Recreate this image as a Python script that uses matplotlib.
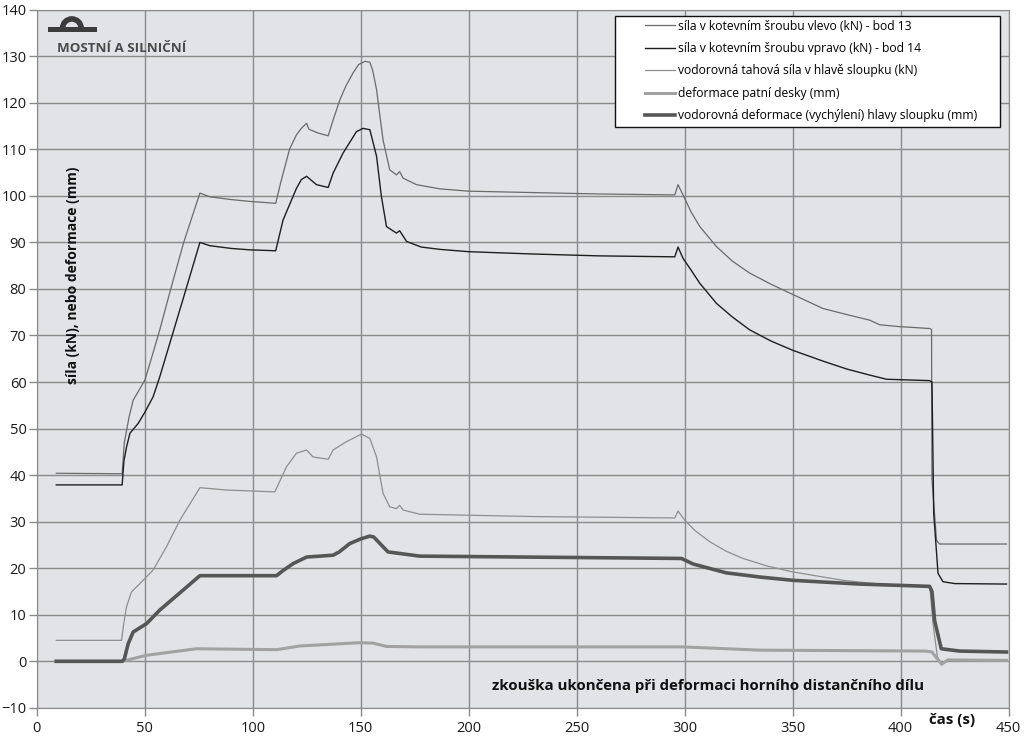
import matplotlib.pyplot as plt
from matplotlib.patches import Rectangle, Arc

plt.rcParams['font.family'] = ['Open Sans', 'DejaVu Sans']

# síla v kotevním šroubu vlevo (kN) - bod 13
t1 = [9, 39.5, 40.5, 42.7, 44.6, 47, 50, 53, 56.9, 62, 68, 75.5, 80, 90, 98.6, 110.6, 113, 117,
      120.2, 122.5, 124.9, 126, 130.2, 134.9, 137.2, 140.3, 143, 146.4, 149, 151.9, 154.2, 155.5,
      157.3, 160.3, 163.4, 166.5, 168, 169.6, 175.8, 186.6, 200, 230, 260.6, 295.4, 296.9, 299.2,
      303, 307, 314.7, 322, 330.1, 340, 350.1, 364, 375, 385.6, 390.3, 399.5, 413.4, 414.3, 414.5,
      416.6, 418, 449]
f1 = [40.4, 40.3, 47, 52.5, 56.1, 58, 60.4, 65, 71.2, 80, 90, 100.6, 99.8, 99.2, 98.8, 98.4, 103, 110,
      113.1, 114.5, 115.6, 114.3, 113.5, 112.9, 116.3, 120.6, 123.5, 126.4, 128.2, 128.9, 128.7, 127,
      122.8, 112, 105.6, 104.5, 105.2, 103.8, 102.4, 101.5, 101, 100.7, 100.4, 100.2, 102.4, 100.2,
      96.5, 93.4, 89.1, 86, 83.4, 81, 78.8, 75.8, 74.5, 73.3, 72.3, 71.9, 71.5, 71.3, 39,
      26, 25.2, 25.2]

# síla v kotevním šroubu vpravo (kN) - bod 14
t2 = [9, 39.5, 40.3, 41.5, 43.1, 46.9, 50, 53.8, 56.9, 62, 68, 75.5, 80, 90, 98.6, 110.6, 114, 120.2,
      122.5, 124.9, 129.5, 134.9, 137.2, 141.8, 148, 151.1, 154.2, 157.3, 159.5, 161.9, 166.5, 168,
      171.2, 178, 186.6, 200, 230, 260.6, 295.4, 296.9, 299.2, 303, 307, 314.7, 322, 330.1, 340,
      350.1, 364, 375, 385.6, 393.4, 413.4, 414.5, 415.3, 417.3, 419.6, 425, 449]
f2 = [37.9, 37.9, 43, 46, 49, 51.1, 53.5, 56.8, 61.1, 69, 78.3, 90.0, 89.3, 88.7, 88.4, 88.2, 94.8, 101.6,
      103.5, 104.2, 102.4, 101.8, 104.9, 109.2, 113.8, 114.5, 114.2, 108.5, 100, 93.4, 92.0, 92.5,
      90.2, 89, 88.5, 88, 87.5, 87.1, 86.9, 89.0, 86.6, 84, 81.2, 76.9, 74, 71.2, 68.8,
      66.8, 64.5, 62.8, 61.5, 60.6, 60.3, 60.0, 31.8, 18.9, 17.1, 16.7, 16.6]

# vodorovná tahová síla v hlavě sloupku (kN)
t3 = [9, 39.2, 40.2, 41.5, 43.8, 47.7, 53.8, 60, 66.2, 75.5, 87.8, 110.2, 115.6, 120.2, 124.9, 127.9,
      134.9, 137.2, 143.4, 150.3, 154.2, 157.3, 160.3, 163.4, 166.5, 168, 169.6, 177.3, 230, 295.4,
      296.9, 300, 305, 311.6, 319, 327, 338, 350.1, 373.3, 396.4, 413.5, 415, 417, 419, 421, 424, 449]
f3 = [4.5, 4.5, 8, 11.7, 14.9, 16.7, 19.6, 24.6, 30.3, 37.3, 36.8, 36.4, 41.8, 44.7, 45.4, 43.9,
      43.4, 45.4, 47.2, 48.8, 47.9, 43.9, 36.1, 33.2, 32.8, 33.5, 32.5, 31.6, 31.1, 30.8,
      32.3, 30.3, 28, 25.7, 23.7, 22.1, 20.5, 19.2, 17.4, 16.3, 16.0, 8, 1, -0.8, 0.2, 0, 0]

# deformace patní desky (mm)
t4 = [9, 39.5, 50.8, 73.9, 111, 121.8, 149.5, 155.7, 161.9, 177, 299.2, 334.7, 411.9, 414.5, 417,
      419, 422, 449]
d4 = [0, 0, 1.3, 2.7, 2.5, 3.3, 4.0, 3.9, 3.2, 3.1, 3.1, 2.4, 2.2, 2.0, 0.5, -0.6, 0.3, 0.2]

# vodorovná deformace (vychýlení) hlavy sloupku (mm)
t5 = [9, 39.5, 40.5, 42.3, 44.6, 50.8, 56.9, 75.5, 111, 114, 118.7, 124.9, 137.2, 140, 144.9, 150,
      154.2, 156, 162.6, 177.3, 298.5, 303.9, 319.3, 335, 350.1, 381, 413.4, 414.5, 415.7, 418.8,
      427.3, 449]
d5 = [0, 0, 0.5, 3.8, 6.3, 8.1, 11, 18.4, 18.4, 19.5, 21, 22.4, 22.8, 23.5, 25.3, 26.3,
      26.9, 26.7, 23.5, 22.6, 22.1, 20.9, 19.0, 18.1, 17.4, 16.6, 16.1, 15, 8.8, 2.7,
      2.2, 2.0]

labels = ['síla v kotevním šroubu vlevo (kN) - bod 13',
          'síla v kotevním šroubu vpravo (kN) - bod 14',
          'vodorovná tahová síla v hlavě sloupku (kN)',
          'deformace patní desky (mm)',
          'vodorovná deformace (vychýlení) hlavy sloupku (mm)']

fig = plt.figure(figsize=(10.24, 7.42), dpi=100)
ax = fig.add_axes([0.036, 0.046, 0.949, 0.941])
ax.set_facecolor('#e1e3e6')

ax.plot(t1, f1, color='#6a6a6a', lw=0.9, label=labels[0])
ax.plot(t2, f2, color='#1e1e1e', lw=1.0, label=labels[1])
ax.plot(t3, f3, color='#8e8e8e', lw=0.9, label=labels[2])
ax.plot(t4, d4, color='#a2a2a2', lw=2.2, label=labels[3])
ax.plot(t5, d5, color='#565656', lw=2.6, label=labels[4])

ax.set_xlim(0, 450)
ax.set_ylim(-10, 140)
ax.set_xticks(range(0, 451, 50))
ax.set_yticks(range(-10, 141, 10))
ax.grid(True, color='#8a8a8a', lw=1)
ax.set_axisbelow(True)
for s in ax.spines.values():
    s.set_color('#8a8a8a')
ax.tick_params(colors='#8a8a8a', labelcolor='#1a1a1a', labelsize=10.5, length=6, width=1)
ax.tick_params(axis='y', pad=1.5)

# legend frame drawn separately so its padding matches the original
ax.add_patch(Rectangle((0.5947, 0.8324), 0.396, 0.159, transform=ax.transAxes,
                       facecolor='white', edgecolor='#111111', lw=1.0, zorder=4))
leg = ax.legend(loc='upper left', bbox_to_anchor=(0.6255, 0.9857), fontsize=8.7, frameon=False,
                handlelength=2.5, labelspacing=0.78, borderpad=0, borderaxespad=0,
                handletextpad=0.25)
leg.set_zorder(5)

ax.text(16.7, 83, 'síla (kN), nebo deformace (mm)', rotation=90, fontsize=10, fontweight='bold',
        ha='center', va='center', color='#111111')
ax.text(310.7, -5.2, 'zkouška ukončena při deformaci horního distančního dílu', fontsize=10.8,
        fontweight='bold', ha='center', va='center', color='#111111')
ax.text(423.6, -12.7, 'čas (s)', fontsize=10.8, fontweight='bold', ha='center', va='center',
        color='#111111', clip_on=False)

# logo
ax.add_patch(Rectangle((5.1, 135.3), 22.7, 0.9, color='#3c3c3c', lw=0))
ax.add_patch(Arc((16.2, 136.0), 8.6, 4.0, theta1=0, theta2=180, color='#3c3c3c', lw=4))
ax.text(9.3, 131.6, 'MOSTNÍ A SILNIČNÍ', fontsize=9.6, fontweight='bold', color='#4a4a4a',
        ha='left', va='center')

fig.savefig('out.png', dpi=100)
